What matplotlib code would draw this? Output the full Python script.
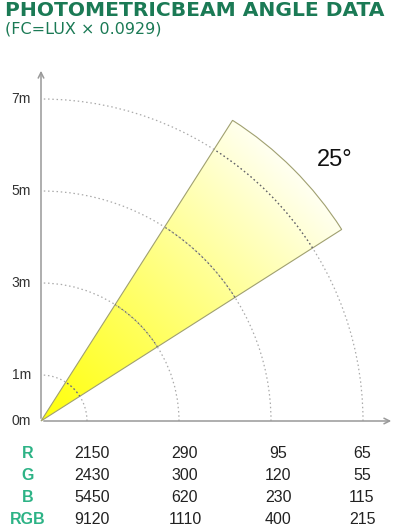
import matplotlib
matplotlib.use("Agg")
import matplotlib.pyplot as plt
import numpy as np
from matplotlib.patches import Wedge, Arc

# beam data
beam_angle = 25
beam_center = 45
beam_length = 7.75
distances = [1, 3, 5, 7]
dist_labels = ['0m', '1m', '3m', '5m', '7m']
dist_ticks = [0, 1, 3, 5, 7]

row_names = ['R', 'G', 'B', 'RGB']
lux_R = [2150, 290, 95, 65]
lux_G = [2430, 300, 120, 55]
lux_B = [5450, 620, 230, 115]
lux_RGB = [9120, 1110, 400, 215]

title_green = '#1b7a55'
label_green = '#2db386'

W, H = 399, 527
ox, oy, scale = 41, 421, 46.0   # origin pixel and px per metre

fig = plt.figure(figsize=(W / 100, H / 100), dpi=100)
ax = fig.add_axes([0, 0, 1, 1])
ax.set_xlim(-ox / scale, (W - ox) / scale)
ax.set_ylim(-(H - oy) / scale, oy / scale)
ax.axis('off')

# gradient wedge
a1 = beam_center - beam_angle / 2
a2 = beam_center + beam_angle / 2
wedge = Wedge((0, 0), beam_length, a1, a2, facecolor='none',
              edgecolor='#a0a070', lw=0.8, zorder=3)
ax.add_patch(wedge)
n = 400
xs = np.linspace(0, beam_length, n)
gx, gy = np.meshgrid(xs, xs)
t = np.clip((gx + gy) / np.sqrt(2) / beam_length, 0, 1)
img = np.ones((n, n, 3))
img[..., 2] = 0.05 + 0.9 * t ** 1.1
im = ax.imshow(img, extent=(0, beam_length, 0, beam_length), origin='lower',
               zorder=2, interpolation='bilinear')
im.set_clip_path(wedge)

# distance arcs
for d in distances:
    ax.add_patch(Arc((0, 0), 2 * d, 2 * d, theta1=0, theta2=90,
                     color='#aaaaaa', lw=0.9, ls=(0, (1.2, 2.2)), zorder=4))
    ax.add_patch(Arc((0, 0), 2 * d, 2 * d, theta1=a1, theta2=a2,
                     color='#666666', lw=0.9, ls=(0, (1.2, 2.2)), zorder=5))

# axes with arrows
ax.annotate('', xy=(0, (oy - 68) / scale), xytext=(0, 0),
            arrowprops=dict(arrowstyle='->', color='#999999', lw=1.1), zorder=6)
ax.annotate('', xy=((394 - ox) / scale, 0), xytext=(0, 0),
            arrowprops=dict(arrowstyle='->', color='#999999', lw=1.1), zorder=6)

for v, lab in zip(dist_ticks, dist_labels):
    ax.text(-0.22, v, lab, ha='right', va='center', fontsize=10,
            family='Liberation Sans', color='#333333')

ax.text(6.39, 5.67, f'{beam_angle}°', ha='center', va='center', fontsize=17,
        family='Liberation Sans', color='#111111')

# table
rows = [lux_R, lux_G, lux_B, lux_RGB]
row_y = [(oy - y) / scale for y in (453, 475, 497, 519)]
col_x = [(x - ox) / scale for x in (92, 185, 278, 362)]
for name, vals, y in zip(row_names, rows, row_y):
    ax.text((28 - ox) / scale, y, name, ha='center', va='center', fontsize=11.5,
            fontweight='bold', family='Liberation Sans', color=label_green)
    for x, v in zip(col_x, vals):
        ax.text(x, y, str(v), ha='center', va='center', fontsize=11.5,
                family='Liberation Sans', color='#222222')

fig.text(5 / W, 1 - 1 / H, 'PHOTOMETRICBEAM ANGLE DATA', ha='left', va='top',
         fontsize=14.6, fontweight='bold', family='DejaVu Sans', color=title_green)
fig.text(5 / W, 1 - 21 / H, '(FC=LUX × 0.0929)', ha='left', va='top',
         fontsize=11.5, family='DejaVu Sans', color=title_green)

fig.savefig('out.png', dpi=100)
